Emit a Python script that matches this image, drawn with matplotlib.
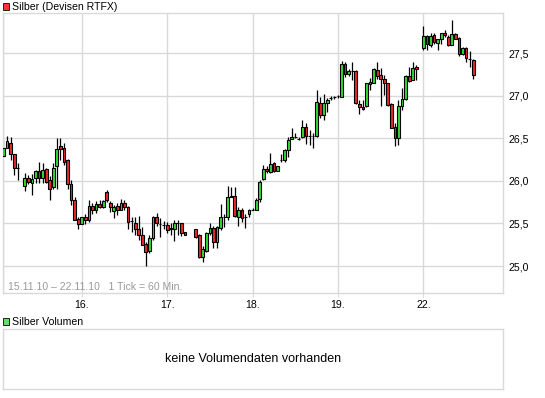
import matplotlib
matplotlib.use("Agg")
import matplotlib.pyplot as plt
from matplotlib.patches import Rectangle

plt.rcParams['font.family'] = ['Liberation Sans', 'DejaVu Sans']

# hourly ticks: hours since 15.11.10 00:00 (trading time, weekend compressed)
hours = [2, 3, 4, 5, 6,
         8, 9, 10, 11, 12, 13, 14, 15, 16, 17, 18, 19, 20, 21, 22, 23, 24, 25,
         26, 27, 28, 29, 30, 31, 32, 33, 34, 35, 36, 37, 38, 39, 40, 41, 42, 43,
         44, 45, 46, 47, 48, 49, 50, 51, 52, 53,
         56, 57, 58, 59, 60, 61, 62, 63, 64, 65, 66, 67, 68, 69, 70, 71, 72, 73,
         74, 75, 76, 77, 78, 79, 80, 81, 82, 83, 84, 85, 86, 87, 88, 89, 90, 91,
         92, 93, 94, 95, 96, 97, 98, 99, 100, 101, 102, 103, 104, 105, 106, 107,
         108, 109, 110, 111, 112, 113, 114, 115, 116, 117, 118,
         120, 121, 122, 123, 124, 125, 126, 127, 128, 129, 130, 131, 132, 133, 134]

opens = [26.29, 26.38, 26.45, 26.31, 26.15,
         25.94, 26.03, 25.98, 26.03, 26.12, 26.03, 26.14, 26.01, 25.93, 26.17, 26.41, 26.39, 26.24, 25.96, 25.78, 25.55, 25.49, 25.58,
         25.54, 25.70, 25.66, 25.73, 25.69, 25.87, 25.74, 25.65, 25.70, 25.66, 25.74, 25.69, 25.53, 25.50, 25.43, 25.37, 25.26, 25.18,
         25.33, 25.58, 25.49, 25.48, 25.48, 25.45, 25.44, 25.50, 25.50, 25.40,
         25.43, 25.36, 25.11, 25.18, 25.39, 25.45, 25.28, 25.45, 25.57, 25.57, 25.82, 25.82, 25.58, 25.66, 25.58, 25.61, 25.66, 25.66,
         25.79, 26.02, 26.14, 26.10, 26.21, 26.12, 26.24, 26.24, 26.36, 26.49, 26.51, 26.49, 26.51, 26.63, 26.53, 26.53, 26.53, 26.91,
         26.77, 26.91, 26.97, 26.98, 26.99, 26.98, 27.37, 27.25, 27.29, 27.29, 26.90, 26.87, 26.88, 27.14, 27.15, 27.30, 27.24, 27.19,
         27.15, 26.90, 26.63, 26.50, 26.88, 26.96, 27.23, 27.18, 27.34,
         27.56, 27.70, 27.59, 27.71, 27.62, 27.66, 27.74, 27.69, 27.59, 27.72, 27.68, 27.49, 27.56, 27.43, 27.42]

highs = [26.48, 26.53, 26.52, 26.32, 26.21,
         26.09, 26.07, 26.08, 26.13, 26.22, 26.21, 26.15, 26.06, 26.21, 26.50, 26.50, 26.44, 26.26, 26.01, 25.81, 25.58, 25.57, 25.61,
         25.78, 25.74, 25.76, 25.77, 25.77, 25.89, 25.76, 25.72, 25.74, 25.79, 25.77, 25.70, 25.58, 25.58, 25.59, 25.46, 25.28, 25.36,
         25.59, 25.62, 25.56, 25.53, 25.52, 25.50, 25.54, 25.54, 25.51, 25.40,
         25.44, 25.38, 25.23, 25.40, 25.50, 25.47, 25.47, 25.73, 25.61, 25.94, 25.93, 25.93, 25.69, 25.68, 25.61, 25.67, 25.68, 25.80,
         26.01, 26.19, 26.17, 26.33, 26.22, 26.17, 26.31, 26.37, 26.51, 26.62, 26.56, 26.52, 26.71, 26.68, 26.60, 26.56, 27.07, 26.98,
         27.02, 26.97, 27.00, 26.99, 27.01, 27.41, 27.39, 27.31, 27.39, 27.30, 26.95, 26.95, 27.15, 27.21, 27.32, 27.40, 27.32, 27.24,
         27.15, 26.91, 26.68, 26.95, 27.09, 27.24, 27.34, 27.40, 27.36,
         27.82, 27.71, 27.74, 27.74, 27.67, 27.74, 27.77, 27.71, 27.89, 27.74, 27.69, 27.57, 27.57, 27.52, 27.43]

lows = [26.28, 26.38, 26.24, 26.07, 26.01,
        25.88, 25.96, 25.83, 25.98, 25.98, 25.98, 25.97, 25.77, 25.90, 25.90, 26.24, 26.19, 25.91, 25.72, 25.54, 25.44, 25.49, 25.49,
        25.52, 25.61, 25.62, 25.68, 25.68, 25.75, 25.64, 25.56, 25.60, 25.66, 25.66, 25.44, 25.40, 25.36, 25.31, 25.25, 25.00, 25.15,
        25.31, 25.47, 25.34, 25.44, 25.39, 25.36, 25.29, 25.36, 25.35, 25.36,
        25.33, 25.10, 25.05, 25.16, 25.36, 25.21, 25.21, 25.42, 25.46, 25.54, 25.81, 25.58, 25.47, 25.52, 25.45, 25.58, 25.66, 25.66,
        25.75, 26.01, 26.09, 26.09, 26.10, 26.11, 26.22, 26.22, 26.28, 26.49, 26.50, 26.48, 26.50, 26.43, 26.42, 26.39, 26.51, 26.74,
        26.71, 26.81, 26.95, 26.96, 26.97, 26.98, 27.22, 27.23, 27.18, 26.90, 26.78, 26.83, 26.87, 27.07, 27.15, 27.19, 26.88, 27.01,
        26.88, 26.62, 26.41, 26.42, 26.83, 26.95, 27.16, 27.18, 27.18,
        27.54, 27.54, 27.57, 27.61, 27.54, 27.61, 27.69, 27.58, 27.59, 27.66, 27.46, 27.48, 27.40, 27.34, 27.20]

closes = [26.38, 26.47, 26.32, 26.15, 26.15,
          26.03, 25.99, 26.02, 26.12, 26.03, 26.13, 25.99, 25.91, 26.15, 26.37, 26.37, 26.22, 25.96, 25.78, 25.54, 25.49, 25.57, 25.54,
          25.70, 25.66, 25.73, 25.69, 25.76, 25.77, 25.69, 25.69, 25.66, 25.74, 25.69, 25.52, 25.53, 25.43, 25.36, 25.25, 25.16, 25.33,
          25.58, 25.51, 25.49, 25.48, 25.42, 25.43, 25.50, 25.50, 25.39, 25.37,
          25.34, 25.11, 25.20, 25.39, 25.45, 25.28, 25.46, 25.58, 25.57, 25.81, 25.81, 25.59, 25.66, 25.56, 25.58, 25.66, 25.66, 25.78,
          25.99, 26.14, 26.11, 26.20, 26.12, 26.17, 26.24, 26.36, 26.48, 26.51, 26.51, 26.49, 26.63, 26.53, 26.53, 26.53, 26.93, 26.77,
          26.91, 26.95, 26.97, 26.98, 26.99, 27.37, 27.25, 27.29, 27.29, 26.91, 26.87, 26.84, 27.15, 27.16, 27.31, 27.23, 27.19, 27.15,
          26.89, 26.62, 26.50, 26.88, 26.96, 27.23, 27.17, 27.32, 27.31,
          27.70, 27.61, 27.70, 27.63, 27.66, 27.73, 27.71, 27.59, 27.72, 27.67, 27.49, 27.56, 27.44, 27.43, 27.24]

day_ticks = [24, 48, 72, 96, 120]
day_labels = ['16.', '17.', '18.', '19.', '22.']
price_ticks = [25.0, 25.5, 26.0, 26.5, 27.0, 27.5]
price_labels = ['25,0', '25,5', '26,0', '26,5', '27,0', '27,5']

GRID = '#d9d9d9'
UP = '#33dd33'
DOWN = '#ee2a2a'

W, H = 545, 398
fig = plt.figure(figsize=(W / 100, H / 100), dpi=100)


def fbox(x0, y0, x1, y1):
    return [x0 / W, 1 - y1 / H, (x1 - x0) / W, (y1 - y0) / H]


ax = fig.add_axes(fbox(2.5, 13, 503, 293.3))
ax.set_xlim(1.72, 142.37)
ax.set_ylim(24.68, 27.97)

for s in ax.spines.values():
    s.set_color(GRID)
    s.set_linewidth(1.0)

ax.set_xticks(day_ticks)
ax.set_xticklabels(day_labels)
ax.set_yticks(price_ticks)
ax.set_yticklabels(price_labels)
ax.yaxis.tick_right()
ax.tick_params(axis='y', length=0, pad=4, labelsize=7.6, colors='black')
ax.tick_params(axis='x', length=3, width=0.8, color=GRID, pad=2, labelsize=7.6, labelcolor='black')
ax.grid(True, color=GRID, linewidth=1.0, zorder=0)
ax.set_axisbelow(True)
ax.axvline(hours[0], color=GRID, linewidth=1.0, zorder=0)

# candles
ax.vlines(hours, lows, highs, color='black', linewidth=0.9, zorder=2)
bottoms = [min(o, c) for o, c in zip(opens, closes)]
heights = [abs(c - o) for o, c in zip(opens, closes)]
colors = [UP if c > o else DOWN for o, c in zip(opens, closes)]
ax.bar(hours, heights, bottom=bottoms, width=0.78, color=colors,
       edgecolor='black', linewidth=0.8, zorder=3)

ax.text(0.011, 0.023, '15.11.10 \u2013 22.11.10   1 Tick = 60 Min.',
        transform=ax.transAxes, fontsize=7.6, color='#9a9a9a', ha='left', va='center')

# legend of price panel
fig.add_artist(Rectangle((2.7 / W, 1 - 9.6 / H), 6.6 / W, 6.6 / H, transform=fig.transFigure,
                         facecolor='#ff3333', edgecolor='#222222', linewidth=0.7))
fig.text(12 / W, 1 - 6.5 / H, 'Silber (Devisen RTFX)', fontsize=7.6, ha='left', va='center')

# volume panel
fig.add_artist(Rectangle((3.0 / W, 1 - 325 / H), 6.4 / W, 6.6 / H, transform=fig.transFigure,
                         facecolor='#66dd66', edgecolor='#222222', linewidth=0.7))
fig.text(12 / W, 1 - 321.7 / H, 'Silber Volumen', fontsize=7.6, ha='left', va='center')

vax = fig.add_axes(fbox(3, 329.3, 503, 389))
vax.set_xticks([])
vax.set_yticks([])
for s in vax.spines.values():
    s.set_color(GRID)
    s.set_linewidth(1.0)
vax.text(0.5, 0.5, 'keine Volumendaten vorhanden', transform=vax.transAxes,
         ha='center', va='center', fontsize=9, color='black')

fig.savefig('out.png', dpi=100)
